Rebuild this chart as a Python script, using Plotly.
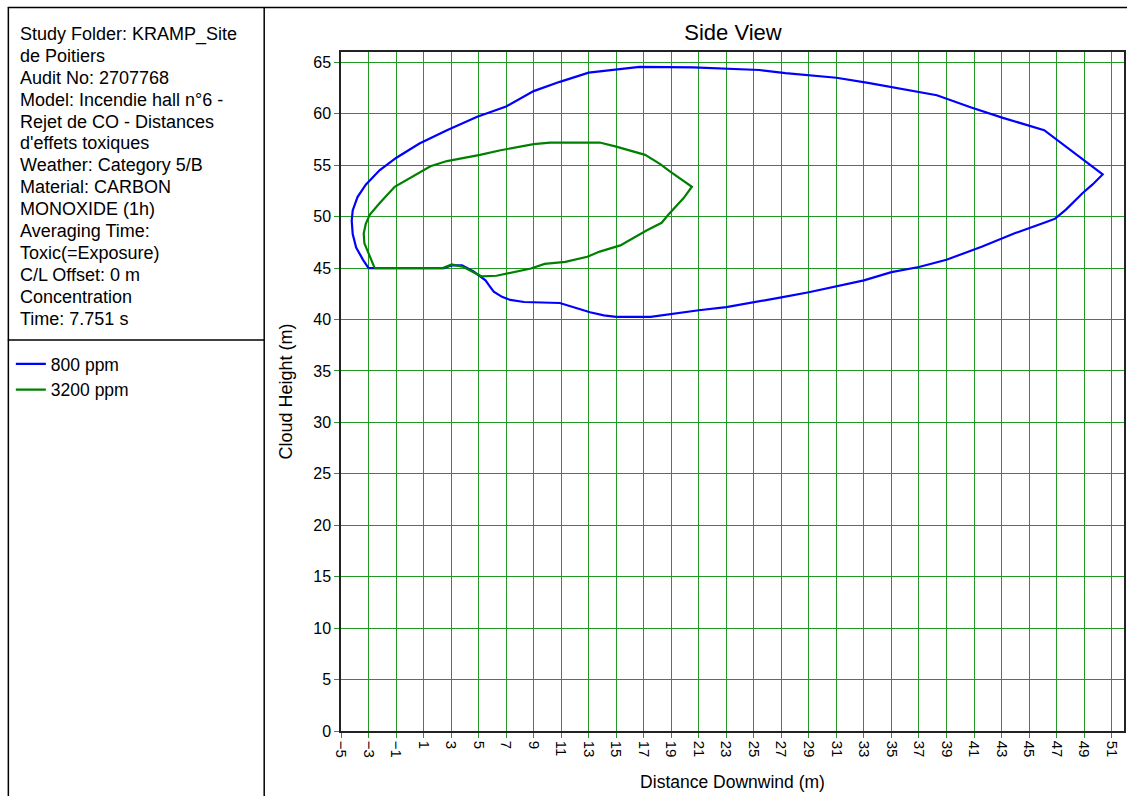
import plotly.graph_objects as go

# ---- data ----
blue_x = [-3.0, -3.4, -3.9, -4.15, -4.22, -4.15, -3.8, -3.2, -2.2, -1.0, 0.7, 2.7, 4.9, 7.0,
          9.0, 10.9, 13.0, 15.0, 16.7, 20.6, 23.0, 25.4, 27.3, 31.0, 33.3, 37.0, 38.3, 40.8,
          43.1, 46.1, 46.9, 50.35, 49.6, 48.9, 47.7, 46.9, 46.3, 44.0, 41.6, 39.0, 37.0, 35.0,
          33.0, 31.0, 29.0, 27.0, 25.0, 23.0, 21.0, 19.0, 17.5, 15.0, 14.1, 13.1, 11.9, 10.9,
          8.3, 7.3, 6.7, 6.1, 5.85, 5.5, 4.6, 3.8, 3.0, 2.5, -3.0]
blue_y = [45.0, 45.8, 47.0, 48.3, 49.6, 50.6, 51.9, 53.1, 54.5, 55.7, 57.1, 58.4, 59.7, 60.7,
          62.2, 63.1, 64.0, 64.3, 64.55, 64.5, 64.35, 64.25, 63.95, 63.5, 63.0, 62.1, 61.8, 60.6,
          59.6, 58.4, 57.6, 54.1, 53.1, 52.3, 50.7, 49.8, 49.5, 48.4, 47.1, 45.8, 45.1, 44.6,
          43.8, 43.2, 42.65, 42.15, 41.65, 41.2, 40.9, 40.5, 40.25, 40.25, 40.4, 40.7, 41.15, 41.6,
          41.7, 41.9, 42.2, 42.7, 43.15, 43.8, 44.7, 45.25, 45.25, 45.0, 45.0]

green_x = [-2.55, -2.9, -3.3, -3.35, -3.2, -2.9, -2.2, -1.1, 0.0, 1.5, 2.7, 5.1, 6.6, 9.0,
           10.2, 13.8, 15.0, 17.1, 18.2, 18.9, 20.5, 19.9, 18.8, 18.3, 17.2, 15.3, 13.8, 12.9,
           11.3, 9.8, 8.8, 7.1, 6.3, 5.2, 4.6, 3.9, 3.05, 2.4, -2.55]
green_y = [45.0, 46.1, 47.4, 48.35, 49.3, 50.2, 51.3, 52.9, 53.75, 54.9, 55.4, 56.0, 56.45, 57.05,
           57.2, 57.2, 56.8, 56.0, 55.1, 54.4, 52.9, 51.8, 50.2, 49.4, 48.65, 47.2, 46.6, 46.1,
           45.6, 45.4, 44.95, 44.5, 44.25, 44.2, 44.6, 45.1, 45.35, 45.0, 45.0]

series_names = ["800 ppm", "3200 ppm"]
x_ticks = list(range(-5, 52, 2))
y_ticks = list(range(0, 66, 5))

info_lines = [
    "Study Folder: KRAMP_Site",
    "de Poitiers",
    "Audit No: 2707768",
    "Model: Incendie hall n°6 -",
    "Rejet de CO - Distances",
    "d'effets toxiques",
    "Weather: Category 5/B",
    "Material: CARBON",
    "MONOXIDE (1h)",
    "Averaging Time:",
    "Toxic(=Exposure)",
    "C/L Offset: 0 m",
    "Concentration",
    "Time: 7.751 s",
]

# ---- figure ----
W, H = 1129, 796
L, R, T, B = 341, 3, 52, 65
pw, ph = W - L - R, H - T - B

def px2x(px):
    return (px - L) / pw

def py2y(py):
    return (H - B - py) / ph

FONT = "Liberation Sans, Arial, sans-serif"
GRID = "#229922"

fig = go.Figure()
fig.add_trace(go.Scatter(x=blue_x, y=blue_y, mode="lines", name=series_names[0],
                         line=dict(color="#0000ff", width=2.2)))
fig.add_trace(go.Scatter(x=green_x, y=green_y, mode="lines", name=series_names[1],
                         line=dict(color="#008000", width=2.2)))

shapes = [
    dict(type="line", xref="paper", yref="paper", x0=px2x(7), x1=px2x(W), y0=py2y(7.5), y1=py2y(7.5),
         line=dict(color="#000", width=1.5)),
    dict(type="line", xref="paper", yref="paper", x0=px2x(7.5), x1=px2x(7.5), y0=py2y(7), y1=py2y(H),
         line=dict(color="#000", width=1.5)),
    dict(type="line", xref="paper", yref="paper", x0=px2x(264), x1=px2x(264), y0=py2y(7), y1=py2y(H),
         line=dict(color="#000", width=1.5)),
    dict(type="line", xref="paper", yref="paper", x0=px2x(7), x1=px2x(264), y0=py2y(340), y1=py2y(340),
         line=dict(color="#000", width=1.5)),
]

annotations = []
for i, t in enumerate(info_lines):
    annotations.append(dict(
        text=t, xref="paper", yref="paper", x=px2x(17), y=py2y(34 + i * 21.9),
        xanchor="left", yanchor="middle", showarrow=False,
        font=dict(family=FONT, size=18, color="#000")))

fig.update_layout(
    width=W, height=H,
    margin=dict(l=L, r=R, t=T, b=B, pad=0),
    paper_bgcolor="white", plot_bgcolor="white",
    font=dict(family=FONT, color="#000"),
    title=dict(text="Side View", x=733 / W, xanchor="center", y=1 - 32 / H, yanchor="middle",
               font=dict(family=FONT, size=22, color="#000")),
    showlegend=True,
    legend=dict(x=px2x(10), y=py2y(346), xanchor="left", yanchor="top",
                font=dict(family=FONT, size=17.5, color="#000"),
                bgcolor="rgba(0,0,0,0)", borderwidth=0, itemwidth=30, tracegroupgap=0),
    shapes=shapes,
    annotations=annotations,
    xaxis=dict(range=[-5, 51.9], tickvals=x_ticks, tickangle=90, ticks="outside", ticklen=5,
               tickcolor=GRID, showgrid=True, gridcolor=GRID, gridwidth=1, zeroline=False,
               showline=True, linecolor="#222", linewidth=1.5, mirror=True,
               tickfont=dict(family=FONT, size=15, color="#000"),
               title=dict(text="Distance Downwind (m)", standoff=19,
                          font=dict(family=FONT, size=17.5, color="#000"))),
    yaxis=dict(range=[0, 66], tickvals=y_ticks, ticks="outside", ticklen=5,
               tickcolor=GRID, showgrid=True, gridcolor=GRID, gridwidth=1, zeroline=False,
               showline=True, linecolor="#222", linewidth=1.5, mirror=True,
               tickfont=dict(family=FONT, size=16, color="#000"),
               title=dict(text="Cloud Height (m)", standoff=16,
                          font=dict(family=FONT, size=18, color="#000"))),
)

fig.write_html("out.html", config={"displayModeBar": False},
               post_script="document.body.style.margin='0';document.body.style.overflow='hidden';")
